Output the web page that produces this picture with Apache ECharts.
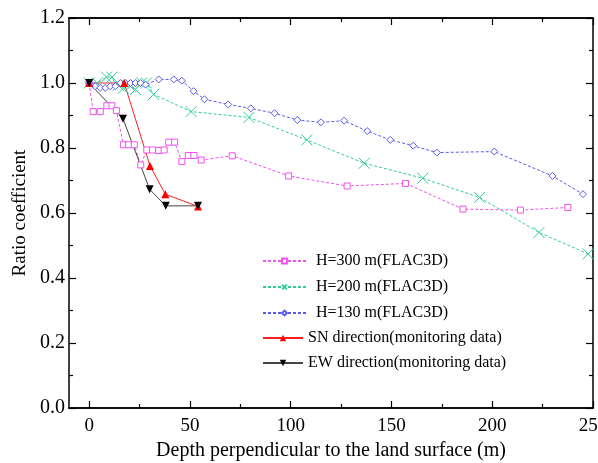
<!DOCTYPE html>
<html>
<head>
<meta charset="utf-8">
<script src="https://cdn.jsdelivr.net/npm/echarts@6/dist/echarts.min.js"></script>
<style>
  html, body { margin: 0; padding: 0; background: #fff; }
  #chart { width: 598px; height: 463px; }
</style>
</head>
<body>
<div id="chart"></div>
<script>
// depth (m) and ratio coefficient
const h300X = [0, 2, 5.5, 8.8, 11.3, 13.5, 17, 19.6, 22.4, 25.6, 28.6, 31.5, 34.5, 37.2, 39.5, 42.4, 46, 49.2, 52, 55.6, 71, 99, 128, 157, 185.5, 214, 237.5];
const h300Y = [1.0, 0.912, 0.912, 0.93, 0.93, 0.915, 0.81, 0.81, 0.81, 0.748, 0.794, 0.794, 0.792, 0.794, 0.818, 0.818, 0.758, 0.777, 0.777, 0.763, 0.776, 0.714, 0.683, 0.691, 0.612, 0.609, 0.617];

const h200X = [0, 4, 8.6, 11.3, 14.4, 17, 20.4, 23, 26, 28.4, 32, 50.6, 79.3, 108, 136.5, 165.5, 193.7, 223.2, 247.6];
const h200Y = [1.0, 1.0, 1.018, 1.018, 0.993, 0.984, 0.99, 0.98, 1.0, 1.0, 0.965, 0.912, 0.894, 0.825, 0.753, 0.707, 0.648, 0.54, 0.474];

const h130X = [0, 3, 5.5, 8, 10.5, 13, 15.5, 18, 20.5, 23, 25.5, 28, 34.5, 42, 46, 51.8, 57.2, 69, 80.2, 92, 103.3, 115, 126.5, 138, 149.4, 160.8, 172.5, 201, 229.9, 245];
const h130Y = [1.0, 0.99, 0.985, 0.985, 0.99, 0.99, 1.0, 1.0, 1.0, 1.0, 1.0, 0.995, 1.011, 1.011, 1.007, 0.975, 0.95, 0.934, 0.922, 0.907, 0.886, 0.879, 0.884, 0.852, 0.825, 0.807, 0.786, 0.789, 0.714, 0.658];

const snX = [0, 17.4, 30.2, 37.8, 54];
const snY = [1.0, 1.0, 0.745, 0.658, 0.62];

const ewX = [0, 16.8, 30, 38, 54];
const ewY = [1.0, 0.89, 0.673, 0.622, 0.622];

const xMajor = [0, 50, 100, 150, 200, 250];
const xMinor = [25, 75, 125, 175, 225];

const FONT = "Liberation Serif";

function zip(xs, ys) {
  return xs.map((x, i) => [x, ys[i]]);
}

const chart = echarts.init(document.getElementById("chart"), null, { renderer: "canvas" });

const xBase = {
  type: "value",
  min: -10,
  max: 250,
  splitLine: { show: false },
  axisLine: { show: true, onZero: false, lineStyle: { color: "#000", width: 1.5 } },
};
const yBase = {
  type: "value",
  min: 0,
  max: 1.2,
  interval: 0.2,
  splitLine: { show: false },
  axisLine: { show: true, onZero: false, lineStyle: { color: "#000", width: 1.5 } },
  axisTick: { inside: true, length: 7, lineStyle: { color: "#000", width: 1.2 } },
  minorTick: { show: true, splitNumber: 2, length: 4, lineStyle: { color: "#000", width: 1.2 } },
};

const option = {
  animation: false,
  backgroundColor: "#fff",
  textStyle: { fontFamily: FONT },
  grid: { left: 69, right: 5, top: 18, bottom: 55, containLabel: false, outerBoundsMode: "none" },
  xAxis: [
    {
      ...xBase,
      position: "bottom",
      name: "Depth perpendicular to the land surface (m)",
      nameLocation: "middle",
      nameGap: 28,
      nameTextStyle: { fontFamily: FONT, fontSize: 20, color: "#000" },
      axisTick: { inside: true, length: 7, customValues: xMajor, lineStyle: { color: "#000", width: 1.2 } },
      axisLabel: { customValues: xMajor, margin: 9, fontFamily: FONT, fontSize: 19, color: "#000" },
    },
    {
      ...xBase,
      position: "bottom",
      axisTick: { inside: true, length: 4, customValues: xMinor, lineStyle: { color: "#000", width: 1.2 } },
      axisLabel: { show: false },
    },
    {
      ...xBase,
      position: "top",
      axisTick: { inside: true, length: 7, customValues: xMajor, lineStyle: { color: "#000", width: 1.2 } },
      axisLabel: { show: false },
    },
    {
      ...xBase,
      position: "top",
      axisTick: { inside: true, length: 4, customValues: xMinor, lineStyle: { color: "#000", width: 1.2 } },
      axisLabel: { show: false },
    },
  ],
  yAxis: [
    {
      ...yBase,
      position: "left",
      name: "Ratio coefficient",
      nameLocation: "middle",
      nameGap: 31,
      nameTextStyle: { fontFamily: FONT, fontSize: 19, color: "#000" },
      axisLabel: { margin: 4, fontFamily: FONT, fontSize: 20, color: "#000", formatter: (v) => v.toFixed(1) },
    },
    {
      ...yBase,
      position: "right",
      axisLabel: { show: false },
    },
  ],
  legend: [
    {
      data: ["H=300 m(FLAC3D)", "H=200 m(FLAC3D)", "H=130 m(FLAC3D)"],
      orient: "vertical",
      left: 262,
      top: 253,
      padding: 0,
      itemWidth: 43,
      itemHeight: 6,
      itemGap: 10,
      textStyle: { fontFamily: FONT, fontSize: 16, color: "#000", lineHeight: 16, padding: [0, 0, 0, 5] },
    },
    {
      data: ["SN direction(monitoring data)", "EW direction(monitoring data)"],
      orient: "vertical",
      left: 262,
      top: 330,
      padding: 0,
      itemWidth: 40,
      itemHeight: 8,
      itemGap: 9,
      textStyle: { fontFamily: FONT, fontSize: 16, color: "#000", lineHeight: 16 },
    },
  ],
  series: [
    {
      name: "H=300 m(FLAC3D)",
      type: "line",
      data: zip(h300X, h300Y),
      symbol: "rect",
      symbolSize: 6,
      lineStyle: { color: "#f050f0", width: 1, type: [3, 2] },
      itemStyle: { color: "#fff", borderColor: "#f050f0", borderWidth: 1 },
    },
    {
      name: "H=200 m(FLAC3D)",
      type: "line",
      data: zip(h200X, h200Y),
      symbol: "path://M0 0L10 10M10 0L0 10",
      symbolSize: 11,
      lineStyle: { color: "#33cc99", width: 1, type: [3, 2] },
      itemStyle: { color: "rgba(0,0,0,0)", borderColor: "#33cc99", borderWidth: 1 },
    },
    {
      name: "H=130 m(FLAC3D)",
      type: "line",
      data: zip(h130X, h130Y),
      symbol: "diamond",
      symbolSize: 7,
      lineStyle: { color: "#5a5af0", width: 1, type: [3, 2] },
      itemStyle: { color: "#fff", borderColor: "#5a5af0", borderWidth: 1 },
    },
    {
      name: "SN direction(monitoring data)",
      type: "line",
      data: zip(snX, snY),
      symbol: "triangle",
      symbolSize: 8,
      lineStyle: { color: "#ff2020", width: 1 },
      itemStyle: { color: "#ff0000" },
    },
    {
      name: "EW direction(monitoring data)",
      type: "line",
      data: zip(ewX, ewY),
      symbol: "triangle",
      symbolRotate: 180,
      symbolSize: 8,
      lineStyle: { color: "#444", width: 1 },
      itemStyle: { color: "#000" },
    },
  ],
};

chart.setOption(option);
</script>
</body>
</html>
